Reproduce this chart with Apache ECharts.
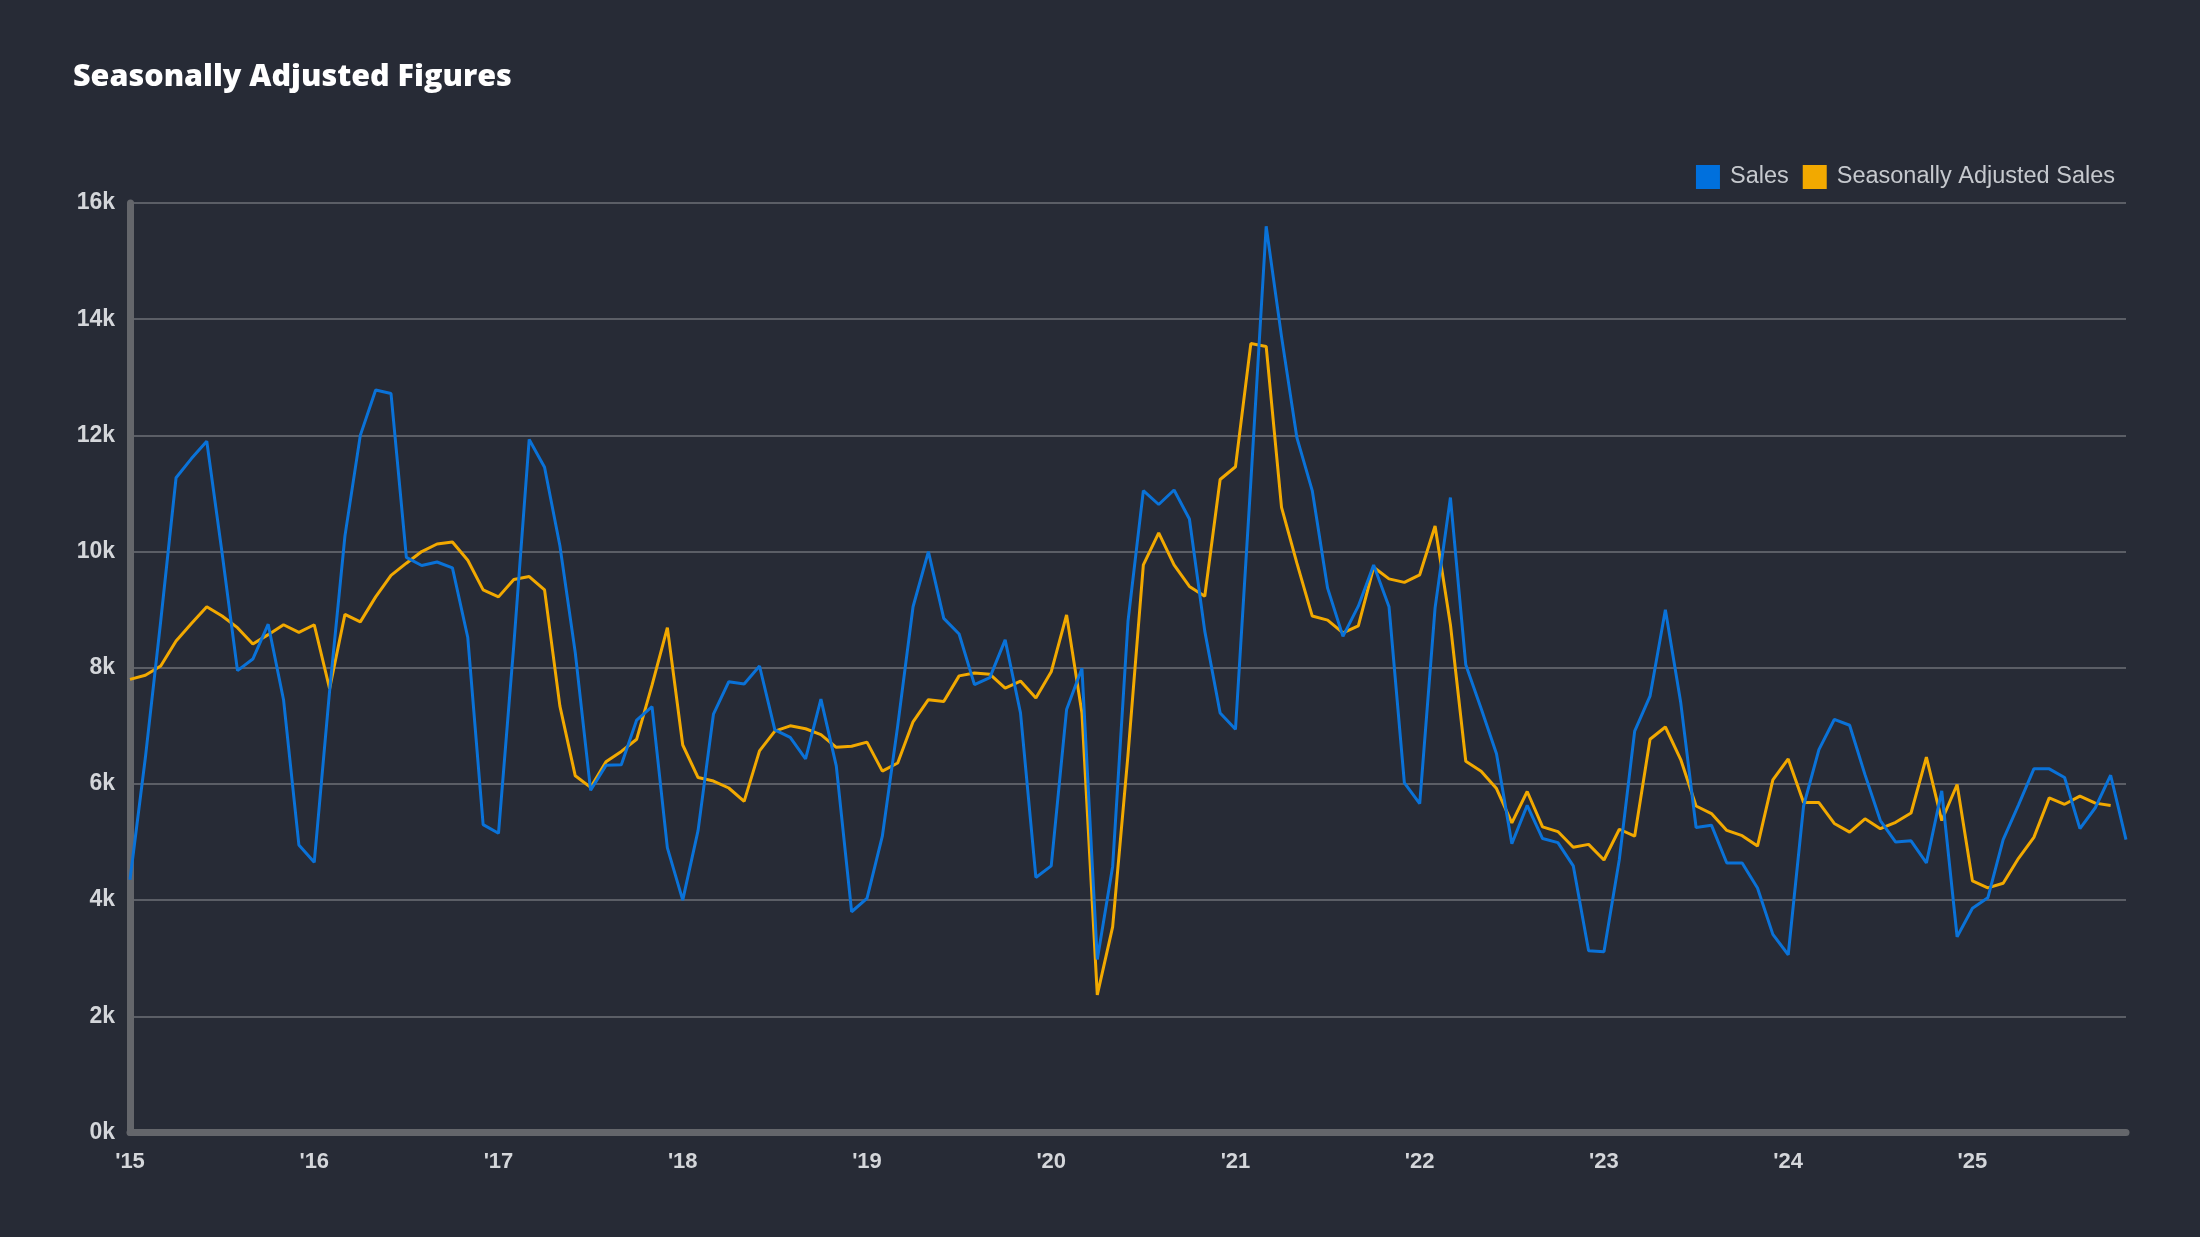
<!DOCTYPE html>
<html>
<head>
<meta charset="utf-8">
<script src="https://cdn.jsdelivr.net/npm/echarts@6/dist/echarts.min.js"></script>
<style>
html,body{margin:0;padding:0;background:#272b36;}
#chart{width:2200px;height:1237px;}
</style>
</head>
<body>
<div id="chart"></div>
<script>
// Tick labels for the x axis (one per January)
const yearLabels = ["'15","'16","'17","'18","'19","'20","'21","'22","'23","'24","'25"];
// Months per year shown (Jan 2015 .. Nov 2025)
const monthsShown = [12,12,12,12,12,12,12,12,12,12,11];

// Monthly sales, Jan 2015 .. Nov 2025
const sales = [
 4350,6450,8800,11270,11600,11900,9970,7950,8150,8750,7450,4950,
 4650,7600,10270,12000,12780,12720,9900,9760,9820,9720,8520,5300,
 5150,8400,11930,11450,10100,8260,5890,6320,6330,7100,7330,4900,
 4000,5200,7200,7760,7720,8030,6930,6800,6430,7460,6310,3800,
 4030,5100,7000,9050,10000,8850,8580,7710,7830,8480,7220,4390,
 4590,7280,7990,2980,4580,8800,11050,10810,11060,10560,8630,7220,
 6940,11200,15600,13700,11960,11050,9370,8540,9060,9770,9050,6020,
 5660,9030,10930,8050,7300,6520,4970,5630,5060,4990,4590,3130,
 3110,4700,6910,7510,9000,7400,5250,5290,4640,4640,4210,3410,
 3060,5620,6590,7110,7010,6160,5370,5000,5020,4640,5880,3370,
 3860,4040,5040,5640,6260,6260,6110,5230,5590,6150,5040
];

// Seasonally adjusted sales, Jan 2015 .. Oct 2025 (Nov 2025 not available)
const adjusted = [
 7800,7870,8030,8460,8760,9050,8890,8690,8410,8570,8740,8610,
 8740,7640,8920,8790,9220,9590,9800,10000,10130,10165,9850,9340,
 9220,9520,9570,9340,7340,6140,5940,6380,6560,6770,7700,8690,
 6670,6110,6050,5930,5700,6570,6910,7000,6950,6850,6630,6650,
 6720,6220,6360,7070,7450,7420,7860,7910,7890,7650,7770,7480,
 7930,8910,7220,2370,3540,6500,9770,10320,9770,9400,9230,11240,
 11460,13580,13530,10760,9800,8890,8820,8600,8720,9730,9530,9470,
 9600,10440,8740,6390,6220,5920,5330,5870,5260,5180,4910,4960,
 4690,5220,5100,6770,6980,6420,5620,5490,5200,5110,4930,6070,
 6430,5680,5680,5320,5170,5400,5230,5340,5500,6460,5370,5990,
 4330,4210,4290,4720,5080,5760,5650,5790,5670,5630,null
];

// Build category list: first month of each year carries the year label
const categories = [];
yearLabels.forEach((y, k) => {
  for (let m = 0; m < monthsShown[k]; m++) {
    categories.push(m === 0 ? y : y + '-' + (m + 1));
  }
});

const chart = echarts.init(document.getElementById('chart'));
chart.setOption({
  backgroundColor: '#272b36',
  animation: false,
  title: {
    text: 'Seasonally Adjusted Figures',
    left: 68, top: 57,
    textStyle: { color: '#ffffff', fontFamily: 'Open Sans', fontWeight: 800, fontSize: 30.5 }
  },
  legend: {
    right: 80, top: 160,
    itemWidth: 24, itemHeight: 24, itemGap: 14,
    icon: 'rect',
    textStyle: { color: '#c6c9ce', fontFamily: 'Liberation Sans', fontSize: 23.5, padding: [0, 0, 0, 5] },
    data: ['Sales', 'Seasonally Adjusted Sales']
  },
  grid: { left: 130, right: 74, top: 203, bottom: 104.5, containLabel: false },
  xAxis: {
    type: 'category',
    data: categories,
    boundaryGap: false,
    axisLine: { show: true, lineStyle: { color: '#64666b', width: 7 } },
    axisTick: { show: false },
    splitLine: { show: false },
    axisLabel: {
      interval: (idx) => idx % 12 === 0,
      formatter: (v) => v.indexOf('-') === -1 ? v : '',
      color: '#d4d6da', fontFamily: 'Liberation Sans', fontWeight: 'bold', fontSize: 22, margin: 18
    }
  },
  yAxis: {
    type: 'value',
    min: 0, max: 16000, interval: 2000,
    axisLine: { show: true, lineStyle: { color: '#64666b', width: 7 } },
    axisTick: { show: false },
    splitLine: { show: true, lineStyle: { color: '#5b5e66', width: 2 } },
    axisLabel: {
      formatter: (v) => (v / 1000) + 'k',
      color: '#d4d6da', fontFamily: 'Liberation Sans', fontWeight: 'bold', fontSize: 23, margin: 15
    }
  },
  series: [
    {
      name: 'Sales', type: 'line', data: sales,
      showSymbol: false, symbol: 'none',
      lineStyle: { color: '#0a72d8', width: 3 },
      itemStyle: { color: '#0070dd' },
      z: 3
    },
    {
      name: 'Seasonally Adjusted Sales', type: 'line', data: adjusted,
      showSymbol: false, symbol: 'none',
      lineStyle: { color: '#f2a900', width: 3 },
      itemStyle: { color: '#f2a900' },
      z: 2
    }
  ]
});
</script>
</body>
</html>
